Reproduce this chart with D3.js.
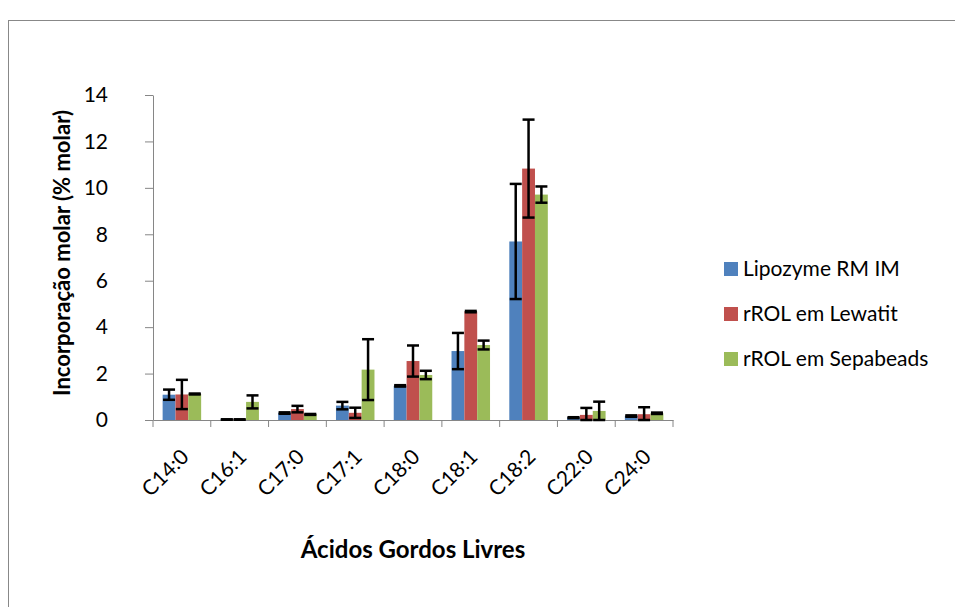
<!DOCTYPE html>
<html>
<head>
<meta charset="utf-8">
<script src="https://cdn.jsdelivr.net/npm/d3@7"></script>
<style>
  body { margin: 0; background: #fff; }
  text { font-family: Lato, "Open Sans", sans-serif; }
</style>
</head>
<body>
<div id="chart"></div>
<script>
var categories = ["C14:0", "C16:1", "C17:0", "C17:1", "C18:0", "C18:1", "C18:2", "C22:0", "C24:0"];
var seriesNames = ["Lipozyme RM IM", "rROL em Lewatit", "rROL em Sepabeads"];
var lipozyme = [1.09, 0.02, 0.30, 0.62, 1.47, 2.97, 7.69, 0.10, 0.17];
var lipozymeErr = [0.22, 0.01, 0.03, 0.16, 0.03, 0.78, 2.48, 0.02, 0.03];
var lewatit = [1.10, 0.02, 0.47, 0.31, 2.54, 4.67, 10.83, 0.22, 0.25];
var lewatitErr = [0.63, 0.01, 0.14, 0.22, 0.67, 0.03, 2.11, 0.30, 0.30];
var sepabeads = [1.12, 0.78, 0.24, 2.17, 1.94, 3.23, 9.71, 0.39, 0.29];
var sepabeadsErr = [0.02, 0.28, 0.02, 1.31, 0.18, 0.19, 0.35, 0.40, 0.03];
var yTicks = [0, 2, 4, 6, 8, 10, 12, 14];
var colors = ["#4F81BD", "#C0504D", "#9BBB59"];

var values = [lipozyme, lewatit, sepabeads];
var errors = [lipozymeErr, lewatitErr, sepabeadsErr];

var width = 955, height = 607;
var margin = {top: 95, left: 153, right: 282, bottom: 187};
var innerW = width - margin.left - margin.right;
var innerH = height - margin.top - margin.bottom;

var svg = d3.select("#chart")
    .append("svg")
    .attr("width", width)
    .attr("height", height);

// outer chart border
svg.append("rect")
    .attr("x", 8.5).attr("y", 20.5)
    .attr("width", 960).attr("height", 600)
    .style("fill", "none")
    .style("stroke", "#888")
    .style("stroke-width", 1);

var g = svg.append("g")
    .attr("transform", "translate(" + margin.left + "," + margin.top + ")");

var x = d3.scaleBand().domain(categories).range([0, innerW]).paddingInner(0).paddingOuter(0);
var barW = x.bandwidth() / 4.5;
var x1 = d3.scaleBand().domain(d3.range(3)).range([barW * 0.75, barW * 3.75]);
var y = d3.scaleLinear().domain([0, 14]).range([innerH, 0]);

// bars
seriesNames.forEach(function(name, s) {
  g.selectAll(".bar" + s)
      .data(categories)
      .enter()
      .append("rect")
      .attr("x", function(d) { return x(d) + x1(s); })
      .attr("y", function(d, i) { return y(values[s][i]); })
      .attr("width", x1.bandwidth())
      .attr("height", function(d, i) { return y(0) - y(values[s][i]); })
      .style("fill", colors[s]);
});

// y axis
var yAxis = g.append("g")
    .call(d3.axisLeft(y).tickValues(yTicks).tickSize(8).tickSizeOuter(0).tickPadding(37));
yAxis.select(".domain").style("stroke", "#868686");
yAxis.selectAll(".tick line").style("stroke", "#868686");
yAxis.selectAll("text").style("font-size", "21px").style("fill", "#000")
    .style("font-family", "Lato, sans-serif");

// x axis
var xAxis = g.append("g")
    .attr("transform", "translate(0," + innerH + ")")
    .call(d3.axisBottom(x).tickSize(0).tickSizeOuter(0).tickFormat(""));
xAxis.select(".domain").style("stroke", "#868686");
xAxis.selectAll(".tick").remove();
var bounds = categories.map(function(c) { return x(c); }).concat([innerW]);
xAxis.selectAll(".bnd")
    .data(bounds)
    .enter()
    .append("line")
    .attr("x1", function(d) { return d; })
    .attr("x2", function(d) { return d; })
    .attr("y1", 0).attr("y2", 7)
    .style("stroke", "#868686");

xAxis.selectAll(".lbl")
    .data(categories)
    .enter()
    .append("text")
    .attr("transform", function(d) {
      return "translate(" + (x(d) + x.bandwidth() / 2 + 3) + ",33) rotate(-45)";
    })
    .attr("text-anchor", "end")
    .attr("dy", "0.35em")
    .style("font-size", "21px")
    .style("fill", "#000")
    .text(function(d) { return d; });

// error bars
seriesNames.forEach(function(name, s) {
  categories.forEach(function(c, i) {
    var cx = x(c) + x1(s) + x1.bandwidth() / 2;
    var hi = y(values[s][i] + errors[s][i]);
    var lo = y(Math.max(0, values[s][i] - errors[s][i]));
    var eb = g.append("g").style("stroke", "#000").style("stroke-width", 2.5);
    eb.append("line").attr("x1", cx).attr("x2", cx).attr("y1", hi).attr("y2", lo);
    eb.append("line").attr("x1", cx - 6).attr("x2", cx + 6).attr("y1", hi).attr("y2", hi);
    eb.append("line").attr("x1", cx - 6).attr("x2", cx + 6).attr("y1", lo).attr("y2", lo);
  });
});

// axis titles
svg.append("text")
    .attr("transform", "translate(70,253) rotate(-90)")
    .attr("text-anchor", "middle")
    .style("font-size", "22px")
    .style("font-weight", "bold")
    .text("Incorporação molar (% molar)");

svg.append("text")
    .attr("x", 413)
    .attr("y", 558)
    .attr("text-anchor", "middle")
    .style("font-size", "24px")
    .style("font-weight", "bold")
    .text("Ácidos Gordos Livres");

// legend
var legend = svg.append("g").attr("transform", "translate(724,269)");
legend.selectAll("rect")
    .data(seriesNames)
    .enter()
    .append("rect")
    .attr("x", 0)
    .attr("y", function(d, i) { return i * 45 - 7; })
    .attr("width", 14).attr("height", 14)
    .style("fill", function(d, i) { return colors[i]; });
legend.selectAll("text")
    .data(seriesNames)
    .enter()
    .append("text")
    .attr("x", 19)
    .attr("y", function(d, i) { return i * 45; })
    .attr("dy", "0.35em")
    .style("font-size", "21px")
    .text(function(d) { return d; });
</script>
</body>
</html>
